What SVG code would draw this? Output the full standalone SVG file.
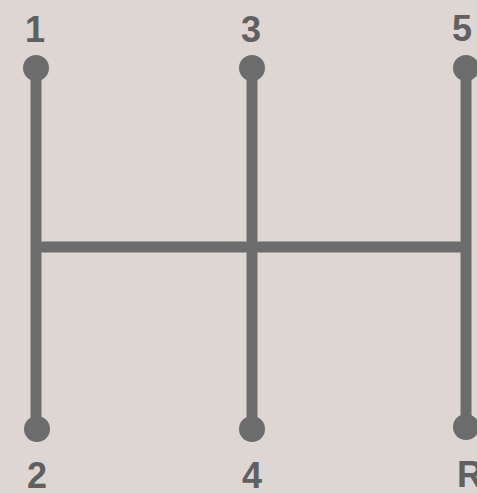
<svg xmlns="http://www.w3.org/2000/svg" width="477" height="493" viewBox="0 0 477 493">
<style>
.bar{stroke:#6d6c6c;stroke-width:11;fill:none;stroke-linecap:butt}
.knob{fill:#6d6c6c}
.lbl{font-family:"Liberation Sans",Arial,sans-serif;font-weight:bold;font-size:36px;fill:#606060;text-anchor:middle}
</style>
<rect width="477" height="493" fill="#ddd6d3"/>
<g id="connectors">
<line class="bar" x1="36" y1="68" x2="36" y2="429"/>
<line class="bar" x1="252" y1="68" x2="252" y2="429"/>
<line class="bar" x1="466" y1="68" x2="466" y2="427"/>
<line class="bar" x1="36" y1="247" x2="466" y2="247"/>
</g>
<g id="g1"><circle class="knob" cx="36" cy="68" r="13"/><text class="lbl" x="35" y="42">1</text></g>
<g id="g2"><circle class="knob" cx="37" cy="429" r="13"/><text class="lbl" x="37" y="488">2</text></g>
<g id="g3"><circle class="knob" cx="252" cy="68" r="13"/><text class="lbl" x="251" y="42">3</text></g>
<g id="g4"><circle class="knob" cx="252" cy="429" r="13"/><text class="lbl" x="252" y="488">4</text></g>
<g id="g5"><circle class="knob" cx="466" cy="68" r="13"/><text class="lbl" x="462" y="41">5</text></g>
<g id="gR"><circle class="knob" cx="466" cy="427" r="13"/><text class="lbl" x="470" y="487">R</text></g>
</svg>
